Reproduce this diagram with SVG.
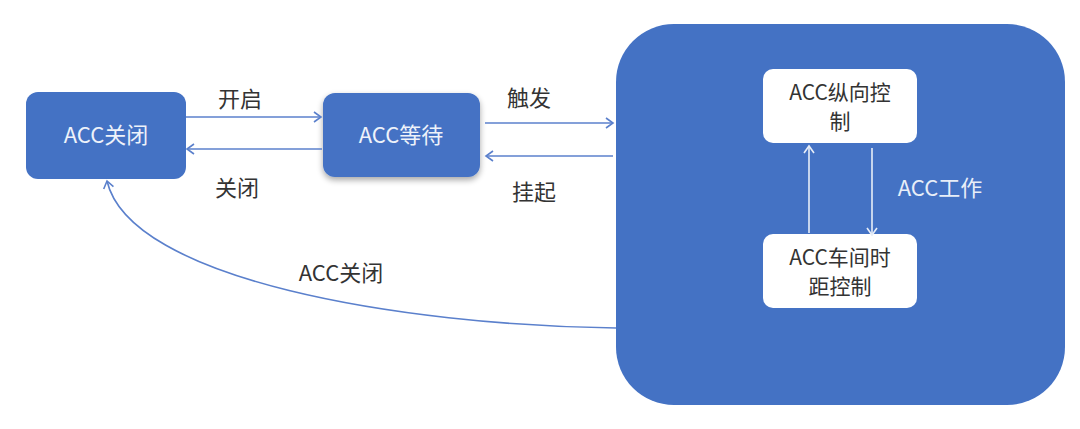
<svg xmlns="http://www.w3.org/2000/svg" width="1080" height="429" viewBox="0 0 1080 429">
<style>
.node{fill:#4472C4;}
.inner{fill:#FFFFFF;}
.ntext{font-family:"Noto Sans CJK SC","Noto Sans",sans-serif;font-size:22px;fill:#EEF2FA;text-anchor:middle;}
.itext{font-family:"Noto Sans CJK SC","Noto Sans",sans-serif;font-size:21px;fill:#333333;text-anchor:middle;}
.label{font-family:"Noto Sans CJK SC","Noto Sans",sans-serif;font-size:22px;fill:#333333;text-anchor:middle;}
.wlabel{font-family:"Noto Sans CJK SC","Noto Sans",sans-serif;font-size:22px;fill:#E8EEF8;text-anchor:middle;}
.conn{fill:none;stroke:#5B80CC;stroke-width:1.6;}
.wconn{fill:none;stroke:#E8EEF8;stroke-width:1.6;}
</style>
<defs>
<marker id="arr" markerWidth="12" markerHeight="12" refX="10" refY="6" orient="auto" markerUnits="userSpaceOnUse">
<path d="M3,1 L10,6 L3,11" fill="none" stroke="#5B80CC" stroke-width="1.6"/>
</marker>
<marker id="warr" markerWidth="12" markerHeight="12" refX="10" refY="6" orient="auto" markerUnits="userSpaceOnUse">
<path d="M3,1 L10,6 L3,11" fill="none" stroke="#E8EEF8" stroke-width="1.6"/>
</marker>
<filter id="sh" x="-10%" y="-10%" width="120%" height="130%">
<feGaussianBlur in="SourceAlpha" stdDeviation="3"/>
<feOffset dy="3"/>
<feComponentTransfer><feFuncA type="linear" slope="0.35"/></feComponentTransfer>
<feMerge><feMergeNode/><feMergeNode in="SourceGraphic"/></feMerge>
</filter>
</defs>
<g id="node-acc-off">
<rect class="node" x="26" y="92" width="160" height="87" rx="12"/>
<text class="ntext" x="106" y="143">ACC关闭</text>
</g>
<g id="node-acc-wait">
<rect class="node" x="323" y="93" width="157" height="84" rx="12" filter="url(#sh)"/>
<text class="ntext" x="401" y="143">ACC等待</text>
</g>
<g id="node-acc-work">
<rect class="node" x="616" y="24" width="449" height="381" rx="58"/>
</g>
<g id="node-long">
<rect class="inner" x="763" y="69" width="154" height="74" rx="10"/>
<text class="itext" x="840" y="100">ACC纵向控</text>
<text class="itext" x="840" y="129">制</text>
</g>
<g id="node-gap">
<rect class="inner" x="763" y="234" width="154" height="74" rx="10"/>
<text class="itext" x="840" y="265">ACC车间时</text>
<text class="itext" x="840" y="294">距控制</text>
</g>
<g id="connectors">
<line class="conn" x1="186" y1="117" x2="321" y2="117" marker-end="url(#arr)"/>
<line class="conn" x1="322" y1="149" x2="187" y2="149" marker-end="url(#arr)"/>
<line class="conn" x1="485" y1="123" x2="613" y2="123" marker-end="url(#arr)"/>
<line class="conn" x1="613" y1="156" x2="486" y2="156" marker-end="url(#arr)"/>
<path class="conn" d="M616,328 C400,325 130,280 107,181" marker-end="url(#arr)"/>
<line class="wconn" x1="809" y1="233" x2="809" y2="146" marker-end="url(#warr)"/>
<line class="wconn" x1="872" y1="148" x2="872" y2="235" marker-end="url(#warr)"/>
</g>
<g id="labels">
<text class="label" x="240" y="107">开启</text>
<text class="label" x="237" y="196">关闭</text>
<text class="label" x="529" y="106">触发</text>
<text class="label" x="534" y="200">挂起</text>
<text class="label" x="341" y="281">ACC关闭</text>
<text class="wlabel" x="940" y="196">ACC工作</text>
</g>
</svg>
